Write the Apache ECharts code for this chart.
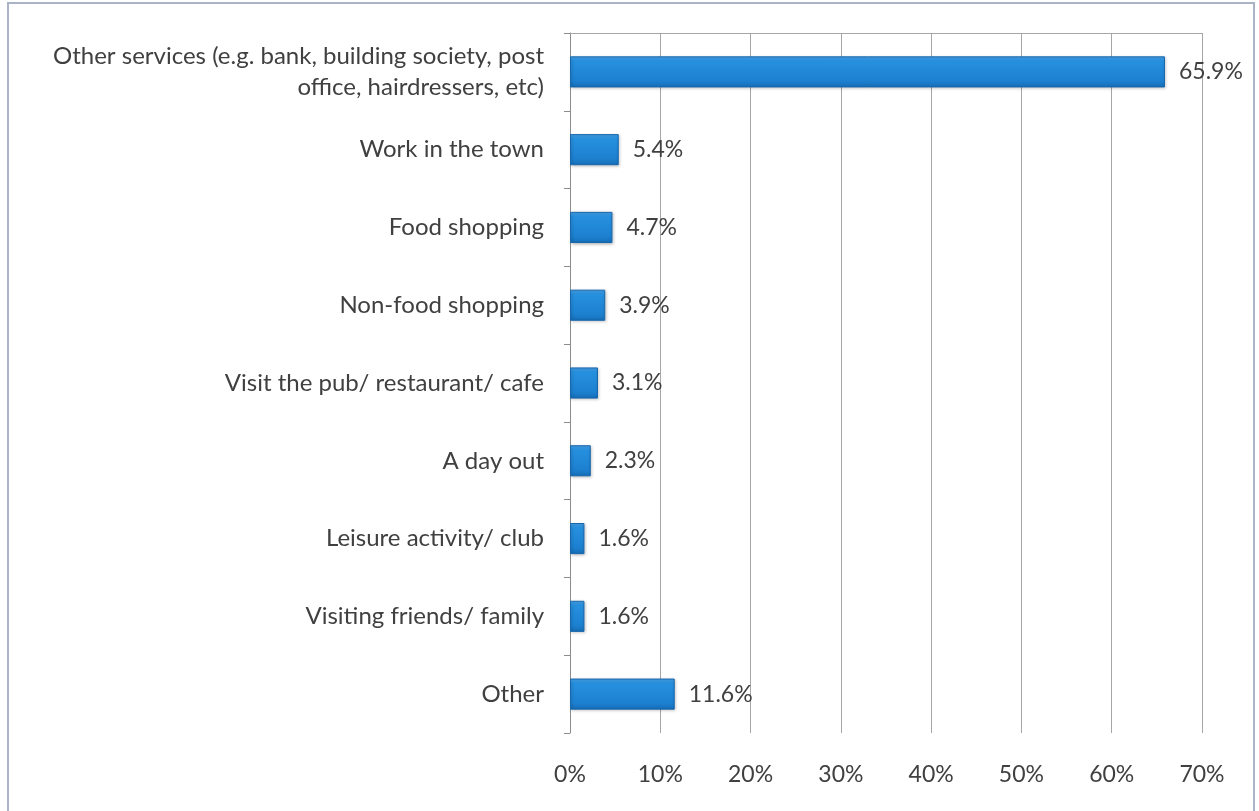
<!DOCTYPE html>
<html>
<head>
<meta charset="utf-8">
<title>Reasons for visiting the town</title>
<script src="https://cdn.jsdelivr.net/npm/echarts@6/dist/echarts.min.js"></script>
<style>
  html, body { margin: 0; padding: 0; background: #ffffff; }
  #chart { width: 1259px; height: 811px; }
</style>
</head>
<body>
<div id="chart"></div>
<script>
// Reasons given for visiting the town (share of respondents, %)
const categories = [
  'Other services (e.g. bank, building society, post\noffice, hairdressers, etc)',
  'Work in the town',
  'Food shopping',
  'Non-food shopping',
  'Visit the pub/ restaurant/ cafe',
  'A day out',
  'Leisure activity/ club',
  'Visiting friends/ family',
  'Other'
];
const shares = [65.9, 5.4, 4.7, 3.9, 3.1, 2.3, 1.6, 1.6, 11.6];
const axisTicks = [0, 10, 20, 30, 40, 50, 60, 70];

const FONT = 'Lato, "Open Sans", sans-serif';
const chart = echarts.init(document.getElementById('chart'), null, { renderer: 'canvas' });

chart.setOption({
  animation: false,
  backgroundColor: '#ffffff',
  graphic: [{
    type: 'rect',
    shape: { x: 8, y: 3, width: 1246, height: 820 },
    style: { fill: 'none', stroke: '#aab4c6', lineWidth: 2 },
    silent: true
  }],
  grid: { left: 570, right: 57, top: 33, bottom: 78, containLabel: false },
  xAxis: [{
    type: 'value',
    min: axisTicks[0],
    max: axisTicks[axisTicks.length - 1],
    interval: axisTicks[1] - axisTicks[0],
    position: 'bottom',
    axisLine: { show: false },
    axisTick: { show: false },
    axisLabel: {
      formatter: '{value}%',
      color: '#404040',
      fontFamily: FONT,
      fontSize: 23,
      margin: 30
    },
    splitLine: { show: true, lineStyle: { color: '#a6a6a6', width: 1 } }
  }, {
    type: 'value',
    min: axisTicks[0],
    max: axisTicks[axisTicks.length - 1],
    position: 'top',
    axisLine: { show: true, lineStyle: { color: '#a6a6a6', width: 1 } },
    axisTick: { show: false },
    axisLabel: { show: false },
    splitLine: { show: false }
  }],
  yAxis: {
    type: 'category',
    data: categories,
    inverse: true,
    axisLine: { show: true, lineStyle: { color: '#8c8c8c', width: 1 } },
    axisTick: { show: true, length: 6, lineStyle: { color: '#8c8c8c' } },
    axisLabel: {
      color: '#404040',
      fontFamily: FONT,
      fontSize: 24,
      lineHeight: 31,
      margin: 26,
      align: 'right'
    },
    splitLine: { show: false }
  },
  series: [{
    type: 'bar',
    xAxisIndex: 0,
    data: shares,
    barCategoryGap: '60%',
    itemStyle: {
      color: new echarts.graphic.LinearGradient(0, 0, 0, 1, [
        { offset: 0, color: '#4aa6ec' },
        { offset: 0.15, color: '#2690df' },
        { offset: 0.8, color: '#1c80cf' },
        { offset: 1, color: '#166db6' }
      ]),
      borderColor: '#1767ad',
      borderWidth: 1,
      shadowColor: 'rgba(0,0,0,0.25)',
      shadowBlur: 3,
      shadowOffsetX: 1,
      shadowOffsetY: 1
    },
    label: {
      show: true,
      position: 'right',
      distance: 14,
      formatter: p => p.value + '%',
      color: '#404040',
      fontFamily: FONT,
      fontSize: 23
    }
  }]
});
</script>
</body>
</html>
